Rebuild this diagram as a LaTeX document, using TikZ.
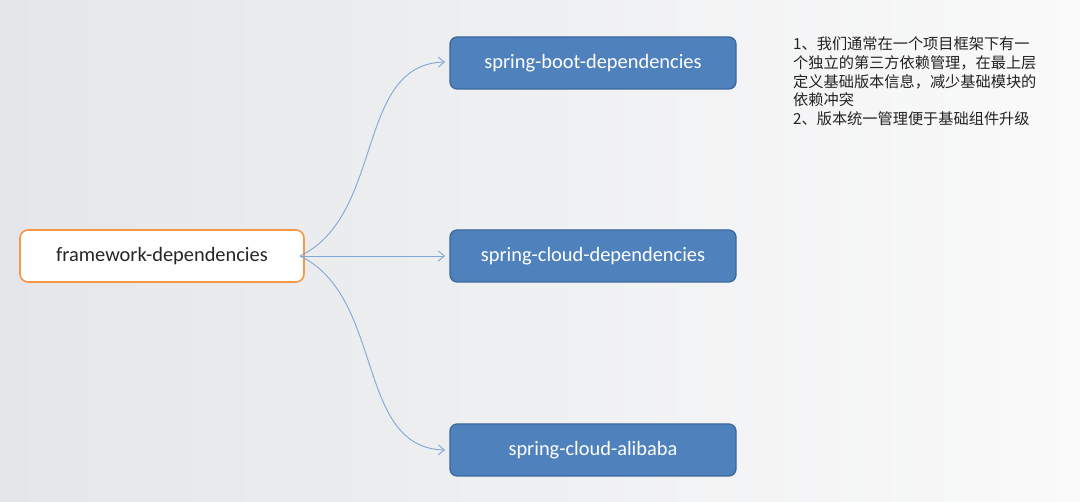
\documentclass[tikz,border=0pt]{standalone}
\usepackage{fontspec}
\setmainfont{Carlito}
\newfontfamily\cjk{Noto Sans CJK SC}
\usetikzlibrary{arrows.meta}
\definecolor{bgL}{HTML}{E4E6E9}
\definecolor{bgR}{HTML}{FAFAFA}
\definecolor{boxblue}{HTML}{4F81BD}
\definecolor{boxedge}{HTML}{3A679C}
\definecolor{orangeedge}{HTML}{F79646}
\definecolor{arrowblue}{HTML}{7FA7D9}
\definecolor{notetext}{HTML}{222222}
\tikzset{
  bluebox/.style={draw=boxedge, line width=1.2pt, fill=boxblue, rounded corners=7pt,
    minimum width=286pt, minimum height=52pt, text=white, font=\fontsize{20.4}{22}\selectfont, inner sep=0pt},
  srcbox/.style={draw=orangeedge, line width=1.6pt, fill=white, rounded corners=8pt,
    minimum width=284pt, minimum height=52pt, text=black!85, font=\fontsize{20.4}{22}\selectfont, inner sep=0pt},
  link/.style={draw=arrowblue, line width=0.9pt, -{Straight Barb[length=6pt,width=10pt,line width=0.9pt]}},
  note/.style={anchor=north west, align=left, text=notetext, inner sep=0pt,
    font=\cjk\fontsize{15.2}{18.6}\selectfont}
}
\begin{document}
\begin{tikzpicture}[x=1pt,y=-1pt]
\useasboundingbox (0,0) rectangle (1080,502);
\shade[left color=bgL, right color=bgR] (0,0) rectangle (1080,502);
\node[srcbox] (fw) at (162,256) {framework-dependencies};
\node[bluebox] (sb) at (593,63) {spring-boot-dependencies};
\node[bluebox] (sc) at (593,256) {spring-cloud-dependencies};
\node[bluebox] (sa) at (593,450) {spring-cloud-alibaba};
\coordinate (o) at (300,256);
\coordinate (t1) at (445,62);
\coordinate (t2) at (445,256);
\coordinate (t3) at (445,450);
\draw[link] (o) .. controls (385,215) and (355,64) .. (t1);
\draw[link] (o) -- (t2);
\draw[link] (o) .. controls (385,297) and (355,448) .. (t3);
\node[note] (txt) at (793,37) {1、我们通常在一个项目框架下有一\\个独立的第三方依赖管理，在最上层\\定义基础版本信息，减少基础模块的\\依赖冲突\\2、版本统一管理便于基础组件升级};
\end{tikzpicture}
\end{document}
